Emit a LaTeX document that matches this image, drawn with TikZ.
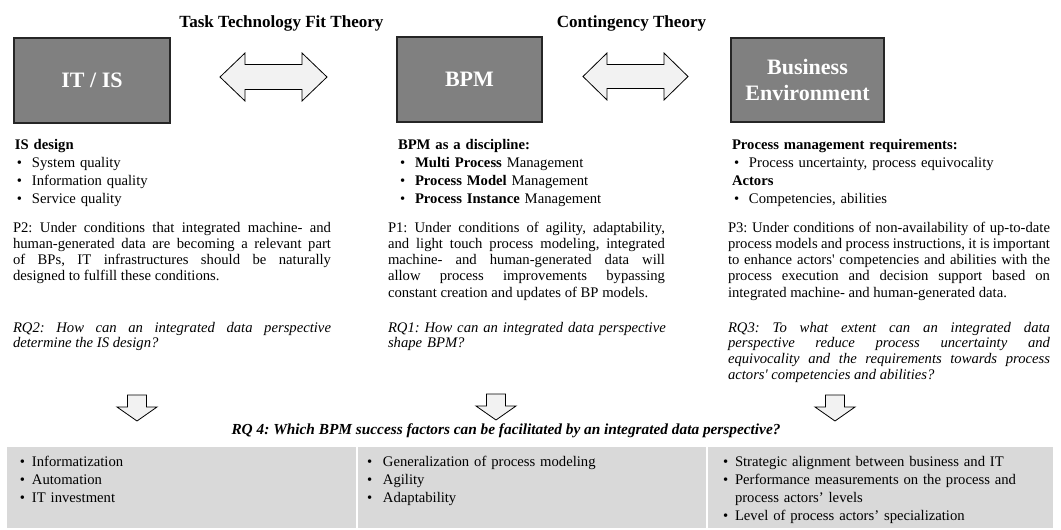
\documentclass[tikz,border=0pt]{standalone}
\usepackage{fontspec}
\setmainfont{Liberation Serif}
% bullet with a fixed indent, used in the column lists
\newcommand\bul{\hspace*{1.5pt}\makebox[11.25pt][l]{\textbullet}}
% bullet for the success-factor boxes
\newcommand\fbul{\makebox[9pt][l]{\textbullet}}
\newcommand\sq{\textquotesingle}
\frenchspacing
\begin{document}
\begin{tikzpicture}[x=0.75pt,y=-0.75pt,
  every node/.style={inner sep=0pt,outer sep=0pt},
  mainbox/.style={draw=black!85,line width=0.9pt,fill=black!50,text=white,
    font=\fontsize{16.5}{20}\selectfont\bfseries,align=center},
  theory/.style={font=\fontsize{12.8}{15}\selectfont\bfseries,anchor=base},
  listtext/.style={font=\fontsize{11}{13.5}\selectfont,align=left,anchor=base west,
    text width=300pt},
  para/.style={font=\fontsize{11}{12.2}\selectfont,align=justify,anchor=base west,
    execute at begin node={\frenchspacing\tolerance=10000\hyphenpenalty=10000\pretolerance=-1}},
  quest/.style={para,font=\fontsize{11}{11.8}\selectfont\itshape},
  blockarrow/.style={draw=black,line width=0.6pt,fill=black!5,line join=miter},
  factorbox/.style={fill=black!15,anchor=north west},
]
\useasboundingbox (0,0) rectangle (1061,529);

% three main concepts
\node[mainbox,minimum width=117pt,minimum height=63.75pt] (itis) at (92,80.5) {IT / IS};
\node[mainbox,minimum width=108.75pt,minimum height=63.75pt] (bpm) at (469.5,79.5) {BPM};
\node[mainbox,minimum width=114.75pt,minimum height=63pt] (benv) at (807.5,80) {Business\\Environment};

% theories linking them
\node[theory] (ttft) at (281.5,27) {Task Technology Fit Theory};
\node[theory] (cont) at (631.5,27) {Contingency Theory};

% double block arrows between the concepts
\coordinate (arrA) at (273.5,77);
\coordinate (arrB) at (635.5,76.5);
\draw[blockarrow,shift={(arrA)}] (-53.5,0) -- (-28.5,-24) -- (-28.5,-12.5) -- (28.5,-12.5)
  -- (28.5,-24) -- (53.5,0) -- (28.5,24) -- (28.5,12.5) -- (-28.5,12.5) -- (-28.5,24) -- cycle;
\draw[blockarrow,shift={(arrB)}] (-52.5,0) -- (-28.5,-23.5) -- (-28.5,-12) -- (28.5,-12)
  -- (28.5,-23.5) -- (52.5,0) -- (28.5,23.5) -- (28.5,12) -- (-28.5,12) -- (-28.5,23.5) -- cycle;

% column lists
\node[listtext] (isd) at (15,149) {\textbf{IS design}\\
  \bul System quality\\
  \bul Information quality\\
  \bul Service quality};
\node[listtext] (disc) at (398,149) {\textbf{BPM as a discipline:}\\
  \bul\textbf{Multi Process} Management\\
  \bul\textbf{Process Model} Management\\
  \bul\textbf{Process Instance} Management};
\node[listtext] (pmr) at (732,149) {\textbf{Process management requirements:}\\
  \bul Process uncertainty, process equivocality\\
  \textbf{Actors}\\
  \bul Competencies, abilities};

% propositions
\node[para,text width=238.5pt] (p2) at (13,232) {P2: Under conditions that integrated machine- and\linebreak
  human-generated data are becoming a relevant part\linebreak
  of BPs, IT infrastructures should be naturally\linebreak
  designed to fulfill these conditions.};
\node[para,text width=207.75pt] (p1) at (388,232) {P1: Under conditions of agility, adaptability,\linebreak
  and light touch process modeling, integrated\linebreak
  machine- and human-generated data will\linebreak
  allow process improvements bypassing\linebreak
  constant creation and updates of BP models.};
\node[para,text width=241.5pt] (p3) at (728,232) {P3: Under conditions of non-availability of up-to-date\linebreak
  process models and process instructions, it is important\linebreak
  to enhance actors\sq{} competencies and abilities with the\linebreak
  process execution and decision support based on\linebreak
  integrated machine- and human-generated data.};

% research questions
\node[quest,text width=238.5pt] (rq2) at (13,332) {RQ2: How can an integrated data perspective\linebreak
  determine the IS design?};
\node[quest,text width=240pt,align=left] (rq1) at (388,332) {RQ1: How can an integrated data perspective\\
  shape BPM?};
\node[quest,text width=241.5pt] (rq3) at (728,332) {RQ3: To what extent can an integrated data\linebreak
  perspective reduce process uncertainty and\linebreak
  equivocality and the requirements towards process\linebreak
  actors\sq{} competencies and abilities?};

% downward block arrows
\coordinate (dnA) at (137,395);
\coordinate (dnB) at (496,394);
\coordinate (dnC) at (835,395);
\foreach \c in {dnA,dnB,dnC}
  \draw[blockarrow,shift={(\c)}] (-9.5,0) -- (9.5,0) -- (9.5,12) -- (20,12) -- (0,26)
    -- (-20,12) -- (-9.5,12) -- cycle;

\node[font=\fontsize{11.5}{13}\selectfont\bfseries\itshape,anchor=base] (rq4) at (506,434)
  {RQ 4: Which BPM success factors can be facilitated by an integrated data perspective?};

% success factor boxes
\node[factorbox,minimum width=261.75pt,minimum height=60.75pt] (fL) at (7,447) {};
\node[factorbox,minimum width=261pt,minimum height=60.75pt] (fM) at (358,447) {};
\node[factorbox,minimum width=258.75pt,minimum height=60.75pt] (fR) at (708,447) {};

\node[listtext] (fLt) at (20,466) {\fbul Informatization\\
  \fbul Automation\\
  \fbul IT investment};
\node[listtext] (fMt) at (367,466) {\makebox[12pt][l]{\textbullet}Generalization of process modeling\\
  \makebox[12pt][l]{\textbullet}Agility\\
  \makebox[12pt][l]{\textbullet}Adaptability};
\node[listtext] (fRt) at (723,466) {\fbul Strategic alignment between business and IT\\
  \fbul Performance measurements on the process and\\
  \hspace*{9pt}process actors’ levels\\
  \fbul Level of process actors’ specialization};
\end{tikzpicture}
\end{document}
